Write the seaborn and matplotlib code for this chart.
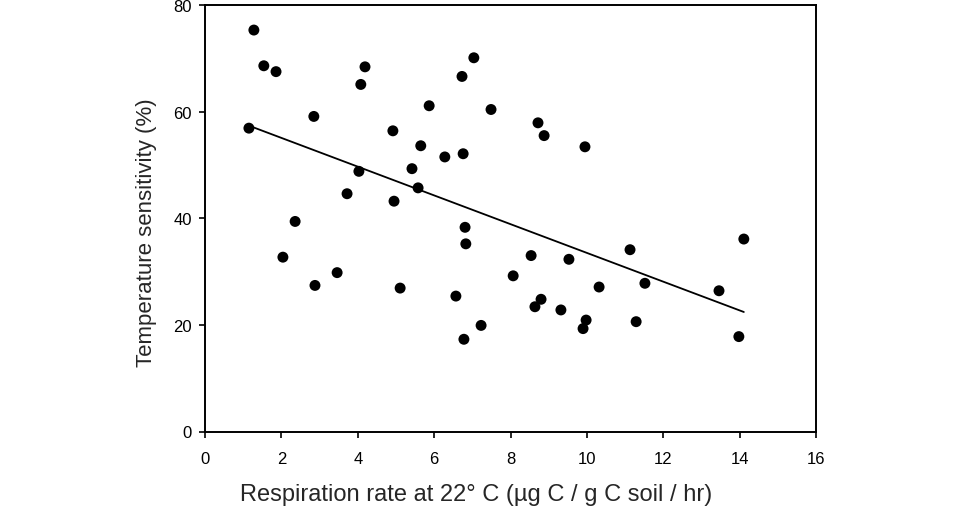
import matplotlib
matplotlib.use("Agg")
import matplotlib.pyplot as plt
import seaborn as sns
import numpy as np
import pandas as pd

resp_rate = [1.15, 1.28, 1.54, 1.86, 2.04, 2.36, 2.85, 2.88, 3.46, 3.72,
             4.03, 4.08, 4.19, 4.92, 4.95, 5.11, 5.42, 5.58, 5.65, 5.87,
             6.28, 6.57, 6.73, 6.76, 6.81, 6.83, 6.78, 7.04, 7.23, 7.49,
             8.07, 8.54, 8.64, 8.72, 8.80, 8.88, 9.32, 9.53, 9.90, 9.95,
             9.98, 10.32, 11.13, 11.29, 11.52, 13.46, 13.98, 14.11]
temp_sens = [56.9, 75.3, 68.6, 67.5, 32.7, 39.4, 59.1, 27.4, 29.8, 44.6,
             48.8, 65.1, 68.4, 56.4, 43.2, 26.9, 49.3, 45.7, 53.6, 61.1,
             51.5, 25.4, 66.6, 52.1, 38.3, 35.2, 17.3, 70.1, 19.9, 60.4,
             29.2, 33.0, 23.4, 57.9, 24.8, 55.5, 22.8, 32.3, 19.3, 53.4,
             20.9, 27.1, 34.1, 20.6, 27.8, 26.4, 17.8, 36.1]

x_ticks = [0, 2, 4, 6, 8, 10, 12, 14, 16]
y_ticks = [0, 20, 40, 60, 80]

df = pd.DataFrame({"x": resp_rate, "y": temp_sens})

sns.set_style("white")
plt.rcParams['font.family'] = ['Liberation Sans', 'DejaVu Sans']

fig = plt.figure(figsize=(9.6, 5.1), dpi=100)
ax = fig.add_axes([205/960, 77.5/510, 611/960, 426.5/510])

sns.regplot(data=df, x="x", y="y", ax=ax, ci=None, truncate=True,
            scatter_kws=dict(s=62, color="black", edgecolor="none", alpha=1),
            line_kws=dict(color="black", lw=1.3))

ax.set_xlim(0, 16)
ax.set_ylim(0, 80)
ax.set_xticks(x_ticks)
ax.set_yticks(y_ticks)
ax.tick_params(axis="both", which="both", direction="out", length=4.3, width=1.2,
               labelsize=12, colors="black",
               bottom=True, left=True, top=False, right=False)
ax.tick_params(axis="x", pad=10)
ax.tick_params(axis="y", pad=5)
for sp in ax.spines.values():
    sp.set_color("black")
    sp.set_linewidth(1.4)
    sp.set_visible(True)

ax.set_xlabel("Respiration rate at 22° C (µg C / g C soil / hr)", fontsize=17)
ax.set_ylabel("Temperature sensitivity (%)", fontsize=16)
ax.xaxis.set_label_coords(0.4444, -0.1616)
ax.xaxis.label.set_verticalalignment("baseline")
ax.yaxis.set_label_coords(-0.0965, 0.4696)
ax.yaxis.label.set_verticalalignment("center")

fig.savefig("out.png", dpi=100, facecolor="white")
